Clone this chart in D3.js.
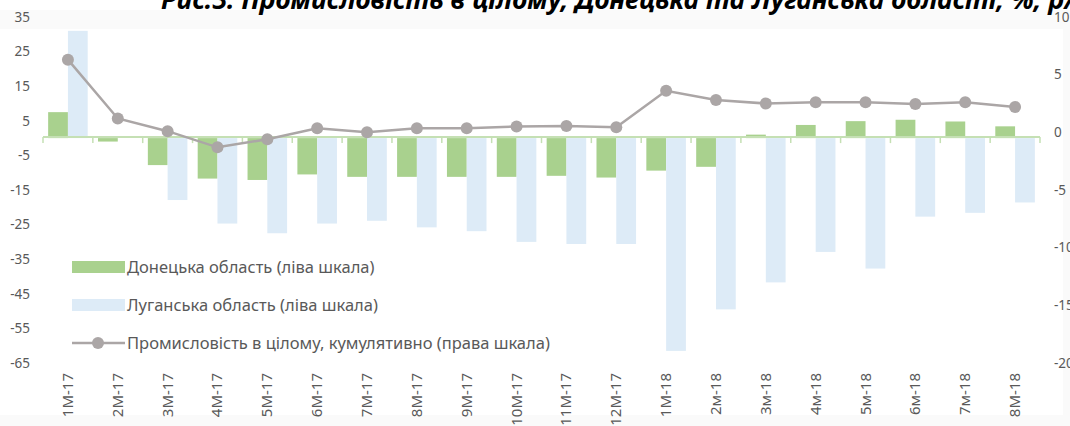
<!DOCTYPE html>
<html>
<head>
<meta charset="utf-8">
<script src="https://cdn.jsdelivr.net/npm/d3@7"></script>
<style>
  html, body { margin: 0; padding: 0; background: #fff; overflow: hidden; }
</style>
</head>
<body>
<script>
// Data
const months = ["1M-17", "2M-17", "3M-17", "4M-17", "5M-17", "6M-17", "7M-17", "8M-17", "9M-17", "10M-17",
    "11M-17", "12M-17", "1M-18", "2м-18", "3м-18", "4м-18", "5м-18", "6м-18", "7м-18", "8M-18"];
const donetsk = [7.5, -1.0, -7.8, -11.7, -12.1, -10.5, -11.2, -11.2, -11.2, -11.2,
    -10.9, -11.4, -9.4, -8.3, 1.0, 3.8, 4.9, 5.3, 4.8, 3.4];
const luhansk = [31, null, -17.9, -24.7, -27.5, -24.7, -23.9, -25.8, -26.9, -30.0,
    -30.6, -30.6, -61.5, -49.5, -41.7, -32.9, -37.7, -22.7, -21.6, -18.6];
const industry = [6.3, 1.2, 0.1, -1.3, -0.6, 0.35, 0.0, 0.35, 0.35, 0.5,
    0.55, 0.45, 3.6, 2.8, 2.5, 2.6, 2.6, 2.45, 2.6, 2.2];
const leftTicks = [35, 25, 15, 5, -5, -15, -25, -35, -45, -55, -65];
const rightTicks = [10, 5, 0, -5, -10, -15, -20];
const legendLabels = [
    "Донецька область (ліва шкала)",
    "Луганська область (ліва шкала)",
    "Промисловість в цілому, кумулятивно (права шкала)"
];
const title = "Рис.3. Промисловість в цілому, Донецька та Луганська області, %, р/р";

// Layout config
const width = 1070;
const height = 426;
const plot = { x0: 43, x1: 1040, y0: 17, y1: 363 };
const font = "'Noto Sans', 'Open Sans', sans-serif";

const colors = {
    donetsk: "#A9D18E",
    luhansk: "#DDEBF7",
    line: "#ABA6A6",
    axis: "#C5E0B4",
    text: "#595959"
};

const svg = d3.select("body")
    .append("svg")
    .attr("width", width)
    .attr("height", height)
    .attr("font-family", font);

// Faint grey borders of the chart area
svg.append("rect").attr("x", 0).attr("y", 10).attr("width", width).attr("height", 19).attr("fill", "#fafafa");
svg.append("rect").attr("x", 1063).attr("y", 10).attr("width", 7).attr("height", height).attr("fill", "#fafafa");
svg.append("rect").attr("x", 0).attr("y", 415).attr("width", width).attr("height", 11).attr("fill", "#fafafa");

// Title (cut off at the top of the picture)
svg.append("text")
    .attr("x", 161)
    .attr("y", 9)
    .attr("font-size", 26.5)
    .attr("font-weight", 700)
    .attr("font-style", "italic")
    .attr("fill", "#000")
    .text(title);

// Scales
const x = d3.scaleBand()
    .domain(months)
    .range([plot.x0, plot.x1])
    .padding(0);

const xInner = d3.scaleBand()
    .domain(["donetsk", "luhansk"])
    .range([0, x.bandwidth()])
    .paddingInner(0)
    .paddingOuter(0.26);

const yLeft = d3.scaleLinear().domain([-65, 35]).range([plot.y1, plot.y0]);
const yRight = d3.scaleLinear().domain([-20, 10]).range([plot.y1, plot.y0]);

// Left axis labels
svg.append("g")
    .selectAll("text")
    .data(leftTicks)
    .join("text")
    .attr("x", 30)
    .attr("y", d => yLeft(d))
    .attr("dy", "0.35em")
    .attr("text-anchor", "end")
    .attr("font-size", 13.5)
    .attr("fill", colors.text)
    .text(d => d);

// Right axis labels (cut at the right edge, as in the source)
svg.append("g")
    .selectAll("text")
    .data(rightTicks)
    .join("text")
    .attr("x", 1054)
    .attr("y", d => yRight(d))
    .attr("dy", "0.35em")
    .attr("text-anchor", "start")
    .attr("font-size", 13.5)
    .attr("fill", colors.text)
    .text(d => d);

// Bars
const groups = svg.append("g")
    .selectAll("g")
    .data(months.map((m, i) => ({ month: m, donetsk: donetsk[i], luhansk: luhansk[i] })))
    .join("g")
    .attr("transform", d => `translate(${x(d.month)},0)`);

groups.selectAll("rect")
    .data(d => ["donetsk", "luhansk"].filter(k => d[k] != null).map(k => ({ key: k, value: d[k] })))
    .join("rect")
    .attr("x", d => xInner(d.key))
    .attr("width", xInner.bandwidth())
    .attr("y", d => yLeft(Math.max(0, d.value)))
    .attr("height", d => Math.abs(yLeft(d.value) - yLeft(0)))
    .attr("fill", d => colors[d.key]);

// Category axis line and ticks
const axisY = yLeft(0) - 1;
svg.append("line")
    .attr("x1", plot.x0)
    .attr("x2", plot.x1)
    .attr("y1", axisY)
    .attr("y2", axisY)
    .attr("stroke", colors.axis)
    .attr("stroke-width", 2);

svg.append("g")
    .selectAll("line")
    .data(months.map(m => x(m)).concat([plot.x1]))
    .join("line")
    .attr("x1", d => d)
    .attr("x2", d => d)
    .attr("y1", axisY)
    .attr("y2", axisY + 6)
    .attr("stroke", colors.axis)
    .attr("stroke-width", 1.5);

// Category labels, rotated
svg.append("g")
    .selectAll("text")
    .data(months)
    .join("text")
    .attr("transform", d => `translate(${x(d) + x.bandwidth() / 2 + 5},373) rotate(-90)`)
    .attr("text-anchor", "end")
    .attr("font-size", 15)
    .attr("fill", colors.text)
    .text(d => d);

// Industry line (right scale)
const line = d3.line()
    .x((d, i) => x(months[i]) + x.bandwidth() / 2)
    .y(d => yRight(d));

svg.append("path")
    .datum(industry)
    .attr("d", line)
    .attr("fill", "none")
    .attr("stroke", colors.line)
    .attr("stroke-width", 2.5);

svg.append("g")
    .selectAll("circle")
    .data(industry)
    .join("circle")
    .attr("cx", (d, i) => x(months[i]) + x.bandwidth() / 2)
    .attr("cy", d => yRight(d))
    .attr("r", 6)
    .attr("fill", colors.line);

// Legend
const legend = svg.append("g")
    .attr("font-size", 16.5)
    .attr("fill", colors.text);

const legendRows = [
    { label: legendLabels[0], key: "donetsk", y: 267 },
    { label: legendLabels[1], key: "luhansk", y: 305 },
    { label: legendLabels[2], key: "line", y: 343 }
];

legendRows.forEach(r => {
    if (r.key === "line") {
        legend.append("line")
            .attr("x1", 72).attr("x2", 125)
            .attr("y1", r.y).attr("y2", r.y)
            .attr("stroke", colors.line)
            .attr("stroke-width", 2.5);
        legend.append("circle")
            .attr("cx", 98).attr("cy", r.y).attr("r", 6)
            .attr("fill", colors.line);
    } else {
        legend.append("rect")
            .attr("x", 72).attr("y", r.y - 6)
            .attr("width", 53).attr("height", 12)
            .attr("fill", colors[r.key]);
    }
    legend.append("text")
        .attr("x", 127)
        .attr("y", r.y)
        .attr("dy", "0.35em")
        .text(r.label);
});
</script>
</body>
</html>
